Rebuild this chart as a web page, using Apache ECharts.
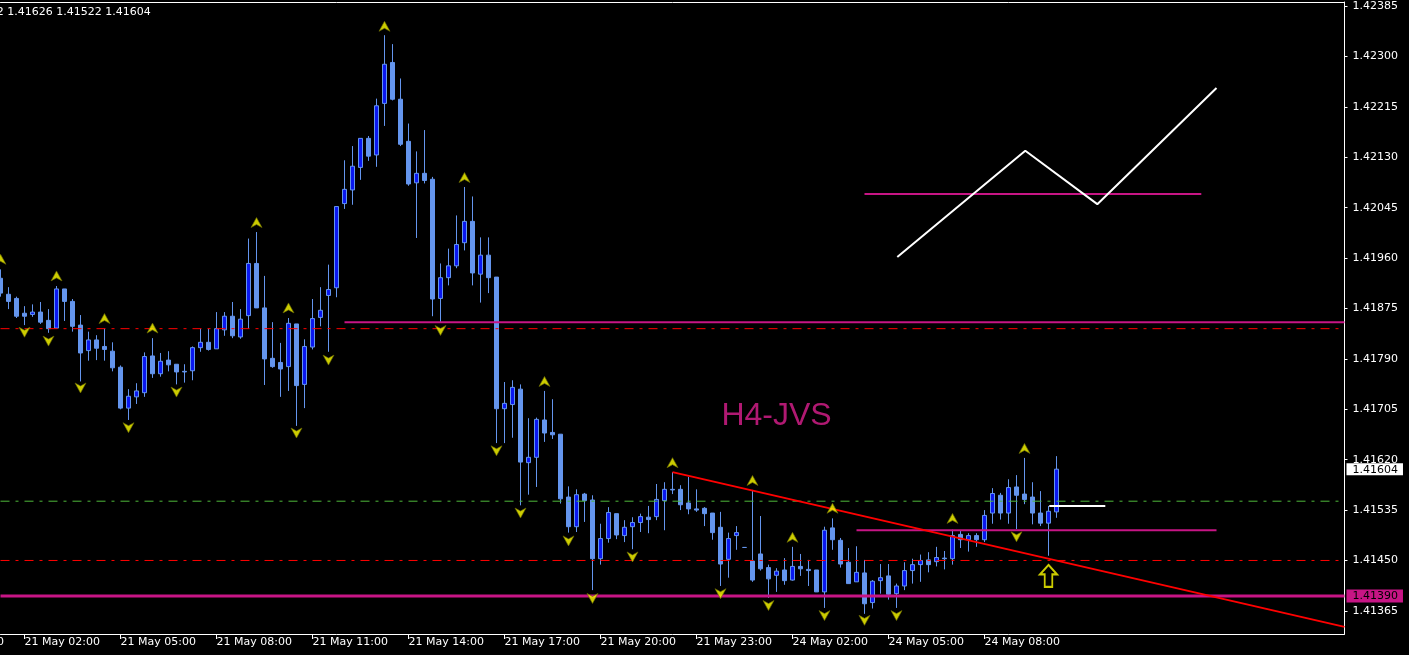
<!DOCTYPE html>
<html>
<head>
<meta charset="utf-8">
<script src="https://cdn.jsdelivr.net/npm/echarts@6/dist/echarts.min.js"></script>
<style>
html,body{margin:0;padding:0;background:#000;}
#c{width:1409px;height:655px;}
</style>
</head>
<body>
<div id="c"></div>
<script>
// ---- data (EURUSD-like M15, candle index 0 = 21 May 02:00) ----
const firstIndex = -3;
const open  = [1.41926,1.41899,1.41892,1.41867,1.41865,1.41869,1.41855,1.41842,1.41908,1.41887,1.41847,1.41804,1.41822,1.41811,1.41803,1.41776,1.41707,1.41726,1.41733,1.41795,1.41765,1.41788,1.41781,1.41769,1.41770,1.41809,1.41818,1.41807,1.41839,1.41862,1.41827,1.41863,1.41951,1.41876,1.41791,1.41784,1.41777,1.41849,1.41747,1.41810,1.41860,1.41897,1.41910,1.42052,1.42075,1.42113,1.42162,1.42134,1.42221,1.42290,1.42228,1.42157,1.42087,1.42103,1.42093,1.41892,1.41927,1.41947,1.41986,1.42022,1.41933,1.41965,1.41928,1.41706,1.41713,1.41739,1.41615,1.41624,1.41687,1.41666,1.41663,1.41557,1.41507,1.41562,1.41552,1.41453,1.41487,1.41529,1.41492,1.41507,1.41514,1.41523,1.41524,1.41551,1.41570,1.41570,1.41547,1.41537,1.41538,1.41530,1.41506,1.41452,1.41492,1.41472,1.41449,1.41461,1.41438,1.41425,1.41434,1.41417,1.41440,1.41435,1.41434,1.41397,1.41505,1.41484,1.41447,1.41414,1.41429,1.41379,1.41416,1.41424,1.41394,1.41407,1.41433,1.41443,1.41451,1.41448,1.41454,1.41453,1.41494,1.41485,1.41492,1.41485,1.41530,1.41560,1.41530,1.41574,1.41562,1.41557,1.41530,1.41513,1.41532];
const high  = [1.41941,1.41911,1.41895,1.41879,1.41882,1.41886,1.41874,1.41913,1.41908,1.41891,1.41864,1.41836,1.41830,1.41841,1.41818,1.41779,1.41739,1.41749,1.41801,1.41825,1.41800,1.41803,1.41781,1.41781,1.41811,1.41841,1.41841,1.41869,1.41869,1.41886,1.41874,1.41993,1.42004,1.41930,1.41852,1.41817,1.41859,1.41849,1.41823,1.41891,1.41911,1.41949,1.42047,1.42125,1.42149,1.42162,1.42166,1.42229,1.42336,1.42321,1.42263,1.42187,1.42140,1.42176,1.42097,1.41951,1.41976,1.42032,1.42080,1.42064,1.41995,1.41995,1.41928,1.41751,1.41754,1.41747,1.41690,1.41691,1.41736,1.41722,1.41663,1.41575,1.41570,1.41564,1.41560,1.41512,1.41540,1.41529,1.41518,1.41523,1.41529,1.41542,1.41579,1.41582,1.41599,1.41577,1.41591,1.41570,1.41540,1.41530,1.41532,1.41497,1.41508,1.41472,1.41569,1.41525,1.41443,1.41437,1.41454,1.41473,1.41461,1.41451,1.41434,1.41507,1.41521,1.41488,1.41471,1.41474,1.41451,1.41417,1.41444,1.41444,1.41411,1.41447,1.41453,1.41460,1.41464,1.41473,1.41466,1.41502,1.41500,1.41496,1.41496,1.41535,1.41572,1.41564,1.41587,1.41594,1.41623,1.41582,1.41567,1.41542,1.41626];
const low   = [1.41895,1.41874,1.41859,1.41847,1.41861,1.41849,1.41834,1.41841,1.41854,1.41836,1.41752,1.41787,1.41788,1.41787,1.41769,1.41705,1.41687,1.41714,1.41726,1.41758,1.41760,1.41769,1.41747,1.41750,1.41754,1.41802,1.41804,1.41807,1.41829,1.41825,1.41824,1.41841,1.41876,1.41746,1.41775,1.41726,1.41736,1.41677,1.41707,1.41806,1.41845,1.41802,1.41894,1.42043,1.42050,1.42092,1.42124,1.42114,1.42183,1.42226,1.42149,1.42082,1.41994,1.42086,1.41862,1.41852,1.41914,1.41943,1.41973,1.41914,1.41885,1.41901,1.41648,1.41648,1.41657,1.41543,1.41561,1.41574,1.41650,1.41655,1.41546,1.41497,1.41498,1.41515,1.41400,1.41443,1.41480,1.41486,1.41481,1.41469,1.41498,1.41496,1.41518,1.41501,1.41562,1.41535,1.41528,1.41532,1.41508,1.41485,1.41407,1.41421,1.41468,1.41472,1.41414,1.41433,1.41387,1.41397,1.41409,1.41416,1.41424,1.41407,1.41397,1.41370,1.41468,1.41438,1.41411,1.41414,1.41360,1.41369,1.41394,1.41384,1.41370,1.41400,1.41411,1.41414,1.41430,1.41440,1.41435,1.41443,1.41471,1.41465,1.41473,1.41481,1.41512,1.41519,1.41512,1.41503,1.41545,1.41511,1.41508,1.41458,1.41522];
const close = [1.41901,1.41887,1.41862,1.41862,1.41869,1.41852,1.41841,1.41908,1.41887,1.41845,1.41800,1.41822,1.41808,1.41806,1.41775,1.41707,1.41727,1.41736,1.41794,1.41765,1.41786,1.41780,1.41768,1.41768,1.41809,1.41818,1.41806,1.41841,1.41862,1.41829,1.41857,1.41951,1.41876,1.41790,1.41777,1.41773,1.41850,1.41745,1.41811,1.41858,1.41872,1.41907,1.42047,1.42076,1.42115,1.42162,1.42132,1.42217,1.42287,1.42228,1.42152,1.42085,1.42103,1.42091,1.41891,1.41927,1.41947,1.41983,1.42022,1.41935,1.41965,1.41927,1.41706,1.41715,1.41742,1.41616,1.41624,1.41688,1.41665,1.41662,1.41554,1.41507,1.41561,1.41551,1.41453,1.41487,1.41531,1.41493,1.41506,1.41514,1.41524,1.41519,1.41553,1.41570,1.41569,1.41544,1.41537,1.41535,1.41529,1.41497,1.41444,1.41487,1.41497,1.41472,1.41417,1.41436,1.41419,1.41432,1.41416,1.41440,1.41436,1.41433,1.41397,1.41501,1.41485,1.41444,1.41411,1.41430,1.41377,1.41415,1.41421,1.41393,1.41407,1.41433,1.41443,1.41450,1.41443,1.41455,1.41453,1.41492,1.41485,1.41492,1.41485,1.41526,1.41563,1.41530,1.41573,1.41560,1.41553,1.41530,1.41513,1.41533,1.41604];

// fractal markers [candle index, price]
const upFractals = [[-3,1.41958],[4,1.41930],[10,1.41858],[16,1.41842],[29,1.42020],[33,1.41876],[45,1.42351],[55,1.42096],[65,1.41752],[81,1.41615],[91,1.41585],[96,1.41489],[101,1.41538],[116,1.41521],[125,1.41639]];
const downFractals = [[0,1.41835],[3,1.41820],[7,1.41741],[13,1.41674],[19,1.41734],[34,1.41665],[38,1.41788],[52,1.41838],[59,1.41635],[62,1.41530],[68,1.41483],[71,1.41386],[76,1.41456],[87,1.41394],[93,1.41374],[100,1.41357],[105,1.41349],[109,1.41357],[124,1.41490]];

// axis ticks
const xTickIndex  = [0,12,24,36,48,60,72,84,96,108,120];
const xTickLabels = ['21 May 02:00','21 May 05:00','21 May 08:00','21 May 11:00','21 May 14:00','21 May 17:00','21 May 20:00','21 May 23:00','24 May 02:00','24 May 05:00','24 May 08:00'];
const xHiddenTick = -12, xHiddenLabel = '20 May 23:00';
const yTicks = [1.42385,1.42300,1.42215,1.42130,1.42045,1.41960,1.41875,1.41790,1.41705,1.41620,1.41535,1.41450,1.41365];
const headerText = '1.41532 1.41626 1.41522 1.41604';

// chart objects
const levelRedUpper = 1.41841;
const levelGreen = 1.41550;
const levelRedLower = 1.41450;
const levelMagenta = 1.41390;
const segMagentaUpper = [[40,1.41852],[165,1.41852]];
const segMagentaMid = [[104,1.41501],[149,1.41501]];
const segMagentaTop = [[105,1.42068],[147.1,1.42068]];
const segWhite = [[128.1,1.41542],[135.1,1.41542]];
const trendLine = [[81,1.41599],[165,1.41338]];
const zigzag = [[109.1,1.41962],[125.1,1.42141],[134.1,1.42051],[149,1.42247]];
const labelPoint = [94,1.41693];
const labelText = 'H4-JVS';
const arrowPoint = [128,1.41424];

// ---- build ----
const X_MIN = -3, X_MAX = 165;
const candles = open.map((o,i)=>[firstIndex+i, o, close[i], low[i], high[i]]);
const lastClose = close[close.length-1];
const FONT = 'DejaVu Sans';
const MAG = '#C71585';
const dashDot = [9,6,3,6];
const fullLine = v => [[X_MIN, v],[X_MAX, v]];

const chart = echarts.init(document.getElementById('c'), null, {renderer:'canvas'});
const seg = (data,color,w,type)=>({type:'line', data:data, symbol:'none', silent:true, z:5, animation:false,
  lineStyle:{color:color,width:w,type:type||'solid'}});

const yLabelValues = yTicks.concat([levelMagenta, lastClose]);

chart.setOption({
  backgroundColor:'#000',
  animation:false,
  grid:{left:0.5,right:64.5,top:2,bottom:21,containLabel:false},
  xAxis:[{
    type:'value', min:X_MIN, max:X_MAX, position:'bottom',
    splitLine:{show:false},
    axisLine:{show:true,onZero:false,lineStyle:{color:'#fff',width:1}},
    axisTick:{show:true,length:5,customValues:xTickIndex,lineStyle:{color:'#fff'}},
    axisLabel:{show:true,customValues:xTickIndex,
      formatter:v=>xTickLabels[xTickIndex.indexOf(Math.round(v))],
      color:'#fff',fontSize:11,fontFamily:FONT,align:'left',margin:3}
  },{
    type:'value', min:X_MIN, max:X_MAX, position:'top',
    splitLine:{show:false},
    axisLine:{show:true,onZero:false,lineStyle:{color:'#fff',width:1}},
    axisTick:{show:false}, axisLabel:{show:false}
  }],
  yAxis:{
    type:'value', position:'right', min:1.41326, max:1.42392,
    splitLine:{show:false},
    axisLine:{show:true,onZero:false,lineStyle:{color:'#fff',width:1}},
    axisTick:{show:true,length:3,customValues:yTicks,lineStyle:{color:'#fff'}},
    axisLabel:{customValues:yLabelValues, margin:2,
      formatter:v=>{
        const s=v.toFixed(5);
        if (Math.abs(v-lastClose)<1e-9) return '{w|'+s+'}';
        if (Math.abs(v-levelMagenta)<1e-9) return '{m|'+s+'}';
        return '{n|'+s+'}';
      },
      rich:{
        n:{color:'#fff',fontSize:11,fontFamily:FONT,padding:[0,0,0,6]},
        w:{color:'#000',backgroundColor:'#fff',fontSize:11,fontFamily:FONT,padding:[1,5,0,6],lineHeight:11},
        m:{color:'#000',backgroundColor:MAG,fontSize:11,fontFamily:FONT,padding:[1,5,1,6],lineHeight:11}
      }}
  },
  series:[
    {
      type:'candlestick', data:candles, encode:{x:0,y:[1,2,3,4]},
      barWidth:4, z:2, silent:true,
      itemStyle:{color:'#0a18f0',color0:'#6495ED',borderColor:'#6495ED',borderColor0:'#6495ED',borderColorDoji:'#6495ED',borderWidth:1}
    },
    seg(fullLine(levelRedUpper),'#ff0000',1,dashDot),
    seg(fullLine(levelGreen),'#4fb83a',1,dashDot),
    seg(fullLine(levelRedLower),'#ff0000',1,dashDot),
    seg(fullLine(levelMagenta),MAG,3),
    seg(segMagentaUpper,MAG,2),
    seg(segMagentaMid,MAG,2),
    seg(segMagentaTop,MAG,2),
    seg(segWhite,'#fff',2),
    seg(trendLine,'#ff0000',2),
    seg(zigzag,'#fff',2),
    {
      type:'scatter', data:upFractals, z:6, silent:true,
      symbol:'path://M5,0 L10,10 L5,7 L0,10 Z', symbolSize:[11,10],
      itemStyle:{color:'#ffff00',borderColor:'#6b6b00',borderWidth:0.8}
    },
    {
      type:'scatter', data:downFractals, z:6, silent:true,
      symbol:'path://M0,0 L5,3 L10,0 L5,10 Z', symbolSize:[11,10],
      itemStyle:{color:'#ffff00',borderColor:'#6b6b00',borderWidth:0.8}
    },
    {
      type:'scatter', data:[arrowPoint], z:6, silent:true,
      symbol:'path://M9,0 L18,10 L13,10 L13,23 L5,23 L5,10 L0,10 Z', symbolSize:[17,22],
      itemStyle:{color:'#000',borderColor:'#ffff00',borderWidth:2}
    },
    {
      type:'scatter', data:[labelPoint], z:7, silent:true, symbolSize:1,
      itemStyle:{color:'rgba(0,0,0,0)'},
      label:{show:true,position:'inside',formatter:()=>labelText,color:'#dc1f8e',fontSize:32,fontFamily:'Liberation Sans'}
    }
  ]
});

const hx = chart.convertToPixel({xAxisIndex:0}, xHiddenTick);
const axisY = chart.convertToPixel({yAxisIndex:0}, 1.41326);
chart.setOption({
  graphic:[
    {type:'text', x:-41.7, y:12.5, silent:true,
      style:{text:headerText, fill:'#fff', font:'11px "DejaVu Sans"', textVerticalAlign:'middle'}},
    {type:'text', x:hx, y:axisY+3, silent:true,
      style:{text:xHiddenLabel, fill:'#fff', font:'11px "DejaVu Sans"', textVerticalAlign:'top'}}
  ]
});
</script>
</body>
</html>
